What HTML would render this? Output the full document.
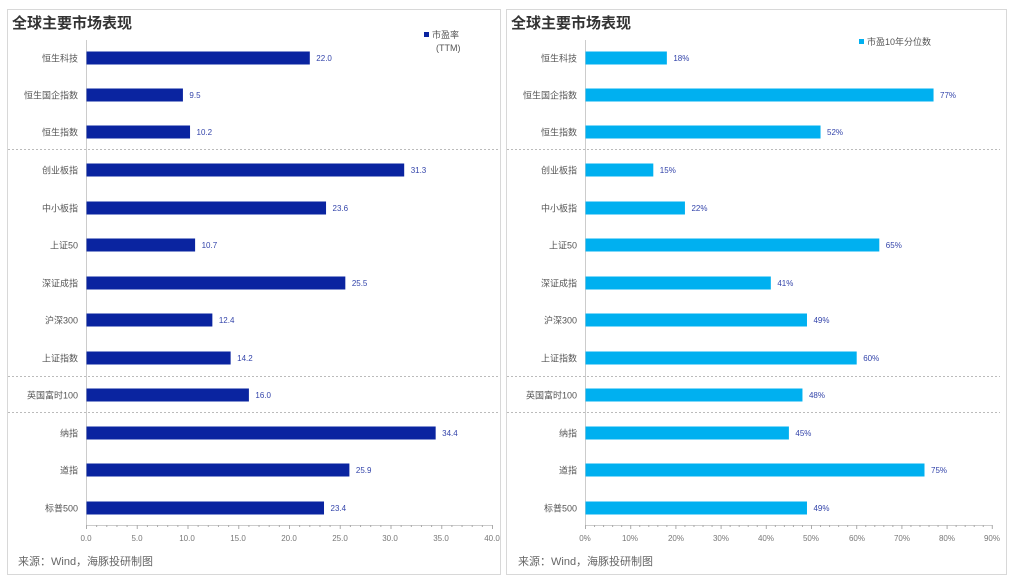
<!DOCTYPE html>
<html><head><meta charset="utf-8"><style>
html,body{margin:0;padding:0;background:#fff;}
svg{display:block;font-family:"Liberation Sans","Noto Sans CJK SC",sans-serif;}
</style></head><body>
<svg width="1014" height="580" viewBox="0 0 1014 580" xmlns="http://www.w3.org/2000/svg">
<rect x="0" y="0" width="1014" height="580" fill="#fff"/>
<rect x="7.5" y="9.5" width="493" height="565" fill="none" stroke="#d8d8d8"/>
<rect x="506.5" y="9.5" width="500" height="565" fill="none" stroke="#d8d8d8"/>
<g font-weight="bold" font-size="15" fill="#333">
<text x="12" y="28">全球主要市场表现</text>
<text x="511" y="28">全球主要市场表现</text>
</g>
<!-- legends -->
<rect x="424" y="32" width="5" height="5" fill="#0a24a0"/>
<text x="432" y="38" font-size="9" fill="#555">市盈率</text>
<text x="436" y="51" font-size="9" fill="#555">(TTM)</text>
<rect x="859" y="39" width="5" height="5" fill="#00b0f0"/>
<text x="867" y="45" font-size="9" fill="#555">市盈10年分位数</text>
<!-- dashed lines -->
<g stroke="#bbb" stroke-dasharray="2,2" stroke-width="1">
<line x1="8" y1="149.5" x2="500" y2="149.5"/><line x1="8" y1="376.5" x2="500" y2="376.5"/><line x1="8" y1="412.5" x2="500" y2="412.5"/>
<line x1="507" y1="149.5" x2="1000" y2="149.5"/><line x1="507" y1="376.5" x2="1000" y2="376.5"/><line x1="507" y1="412.5" x2="1000" y2="412.5"/>
</g>
<!-- axes -->
<g stroke="#ccc">
<line x1="86.5" y1="40" x2="86.5" y2="525"/><line x1="86" y1="525.5" x2="492" y2="525.5"/>
<line x1="585.5" y1="40" x2="585.5" y2="525"/><line x1="585" y1="525.5" x2="992" y2="525.5"/>
</g>
<g id="ticksL" stroke="#aaa"></g>
<g font-size="8" fill="#777" text-anchor="middle">
<text x="86" y="541">0.0</text><text x="137" y="541">5.0</text><text x="187" y="541">10.0</text><text x="238" y="541">15.0</text><text x="289" y="541">20.0</text><text x="340" y="541">25.0</text><text x="390" y="541">30.0</text><text x="441" y="541">35.0</text><text x="492" y="541">40.0</text>
<text x="585" y="541">0%</text><text x="630" y="541">10%</text><text x="676" y="541">20%</text><text x="721" y="541">30%</text><text x="766" y="541">40%</text><text x="811" y="541">50%</text><text x="857" y="541">60%</text><text x="902" y="541">70%</text><text x="947" y="541">80%</text><text x="992" y="541">90%</text>
</g>
<g font-size="11" fill="#666">
<text x="18" y="565">来源：Wind，海豚投研制图</text>
<text x="518" y="565">来源：Wind，海豚投研制图</text>
</g>
<g id="bars"></g>
</svg>
<script>
var names=["恒生科技","恒生国企指数","恒生指数","创业板指","中小板指","上证50","深证成指","沪深300","上证指数","英国富时100","纳指","道指","标普500"];
var pe=[22.0,9.5,10.2,31.3,23.6,10.7,25.5,12.4,14.2,16.0,34.4,25.9,23.4];
var pct=[18,77,52,15,22,65,41,49,60,48,45,75,49];
var ys=[58,95,132,170,208,245,283,320,358,395,433,470,508];
var ns="http://www.w3.org/2000/svg",g=document.getElementById("bars");
function el(t,a,txt){var e=document.createElementNS(ns,t);for(var k in a)e.setAttribute(k,a[k]);if(txt!=null)e.textContent=txt;g.appendChild(e);}
for(var i=0;i<13;i++){var y=ys[i];
 var w=pe[i]*10.15;el("rect",{x:86.5,y:y-6.5,width:w,height:13,fill:"#0a24a0"});
 el("text",{x:87+w+6,y:y+3,"font-size":8,fill:"#3344aa"},pe[i].toFixed(1));
 el("text",{x:78,y:y+3.5,"font-size":9,fill:"#555","text-anchor":"end"},names[i]);
 var w2=pct[i]*4.52;el("rect",{x:585.5,y:y-6.5,width:w2,height:13,fill:"#00b0f0"});
 el("text",{x:586+w2+6,y:y+3,"font-size":8,fill:"#3344aa"},pct[i]+"%");
 el("text",{x:577,y:y+3.5,"font-size":9,fill:"#555","text-anchor":"end"},names[i]);
}
for(var j=0;j<=40;j++){var x=86.5+j*10.15;el("line",{x1:x,y1:525,x2:x,y2:(j%5==0?529:527),stroke:"#aaa"});}
for(var j=0;j<=45;j++){var x=585.5+j*9.04;el("line",{x1:x,y1:525,x2:x,y2:(j%5==0?529:527),stroke:"#aaa"});}
</script>
</body></html>
